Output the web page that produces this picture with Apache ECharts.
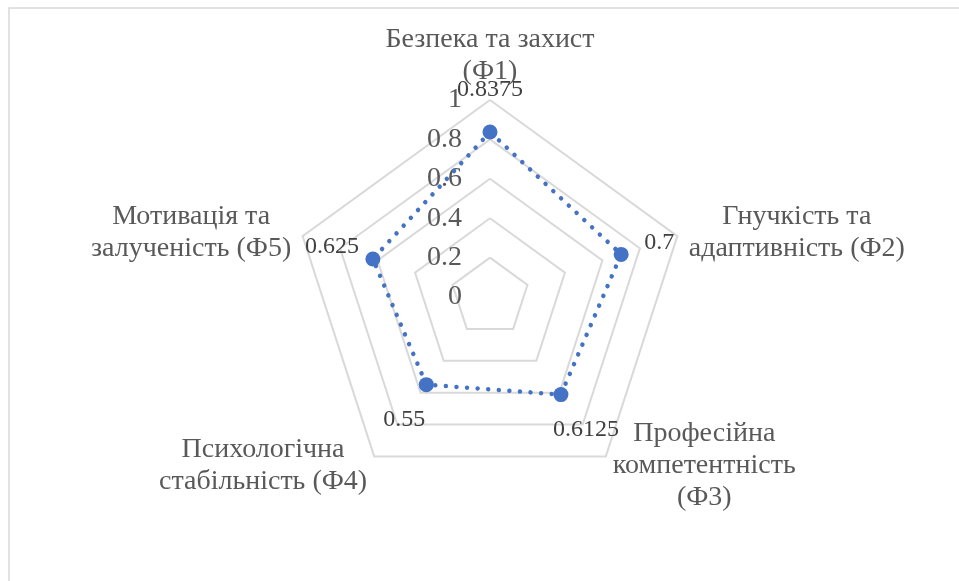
<!DOCTYPE html>
<html>
<head>
<meta charset="utf-8">
<script src="https://cdn.jsdelivr.net/npm/echarts@6/dist/echarts.min.js"></script>
<style>
html,body{margin:0;padding:0;background:#fff;}
#chart{width:959px;height:581px;}
</style>
</head>
<body>
<div id="chart"></div>
<script>
var categories = [
  'Безпека та захист\n(Ф1)',
  'Гнучкість та\nадаптивність (Ф2)',
  'Професійна\nкомпетентність\n(Ф3)',
  'Психологічна\nстабільність (Ф4)',
  'Мотивація та\nзалученість (Ф5)'
];
var values = [0.8375, 0.7, 0.6125, 0.55, 0.625];
var valueLabels = ['0.8375', '0.7', '0.6125', '0.55', '0.625'];
var tickLabels = ['0', '0.2', '0.4', '0.6', '0.8', '1'];

var FONT = "'Liberation Serif', 'Times New Roman', serif";
var BLUE = '#4472C4';
var labelOffsets = [[0, -42], [38, -12], [25, 35], [-22, 35], [-41, -12]];

// ECharts lays radar axes counter-clockwise; the reference goes clockwise.
var order = [0, 4, 3, 2, 1];
var orderedValues = order.map(function (k) { return values[k]; });

var indicators = order.map(function (k, i) {
  var ind = { name: categories[k], min: 0, max: 1 };
  if (i === 0) {
    ind.axisLabel = { show: true };
  }
  return ind;
});

var series = [{
  type: 'radar',
  silent: true,
  z: 3,
  symbol: 'circle',
  symbolSize: 15,
  itemStyle: { color: BLUE },
  lineStyle: { color: BLUE, width: 4.5, type: [0.01, 10.6], cap: 'round' },
  data: [{ value: orderedValues }]
}];

values.forEach(function (v, i) {
  series.push({
    type: 'radar',
    silent: true,
    z: 4,
    symbol: 'circle',
    symbolSize: 1,
    itemStyle: { color: 'transparent' },
    lineStyle: { width: 0, color: 'transparent' },
    label: {
      show: true,
      position: 'inside',
      offset: labelOffsets[i],
      color: '#404040',
      fontSize: 24,
      fontFamily: FONT,
      formatter: function (p) {
        var val = Array.isArray(p.value) ? NaN : p.value;
        return Math.abs(val - values[i]) < 1e-9 ? valueLabels[i] : '';
      }
    },
    data: [{ value: orderedValues }]
  });
});

var chart = echarts.init(document.getElementById('chart'), null, { renderer: 'canvas' });
chart.setOption({
  animation: false,
  backgroundColor: '#ffffff',
  graphic: [{
    type: 'rect',
    silent: true,
    shape: { x: 9, y: 8, width: 1200, height: 1000 },
    style: { fill: 'none', stroke: '#d9d9d9', lineWidth: 1.5 }
  }],
  radar: {
    center: [490, 297],
    radius: 197,
    shape: 'polygon',
    startAngle: 90,
    splitNumber: 5,
    indicator: indicators,
    axisName: {
      color: '#595959',
      fontSize: 28,
      fontFamily: FONT,
      formatter: function (name) {
        return name.split('\n').map(function (l) { return '{c|' + l + '}'; }).join('\n');
      },
      rich: {
        c: { align: 'center', lineHeight: 32, fontSize: 28, fontFamily: FONT, color: '#595959' }
      }
    },
    nameGap: 12,
    axisLine: { show: false },
    axisTick: { show: false },
    splitArea: { show: false },
    splitLine: { lineStyle: { color: '#d9d9d9', width: 2 } },
    axisLabel: {
      show: false,
      color: '#595959',
      fontSize: 28,
      fontFamily: FONT,
      margin: 28,
      formatter: function (v) { return tickLabels[Math.round(v / 0.2)]; }
    }
  },
  series: series
});
</script>
</body>
</html>
